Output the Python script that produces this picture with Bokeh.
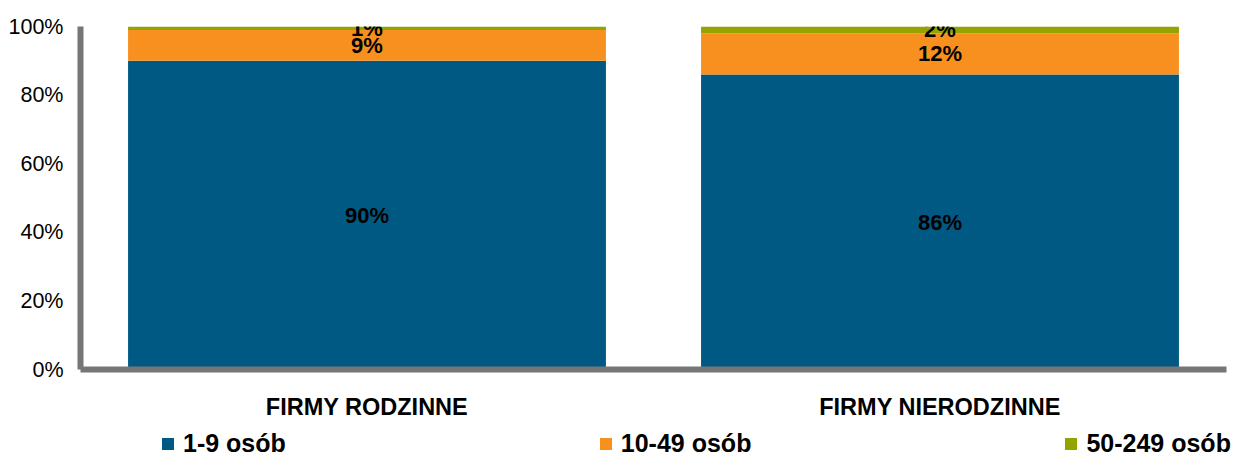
from bokeh.plotting import figure
from bokeh.layouts import column, row
from bokeh.models import ColumnDataSource, FactorRange, Range1d, FixedTicker
from bokeh.core.properties import value
from bokeh.embed import file_html
from bokeh.resources import INLINE

# Company size structure, family vs non-family firms (% of firms)
categories = ["FIRMY RODZINNE", "FIRMY NIERODZINNE"]
size_groups = ["1-9 osób", "10-49 osób", "50-249 osób"]
micro = [90, 86]
small = [9, 12]
medium = [1, 2]
colors = ["#005982", "#F7901E", "#95A300"]
y_ticks = [0, 20, 40, 60, 80, 100]

FONT = "Liberation Sans"
STACK = ["micro", "small", "medium"]

source = ColumnDataSource(data=dict(
    cat=categories, micro=micro, small=small, medium=medium,
))

p = figure(
    x_range=FactorRange(*categories),
    y_range=Range1d(0, 100),
    width=1245, height=428,
    output_backend="svg", toolbar_location=None,
    min_border_left=80, min_border_right=19,
    min_border_top=26, min_border_bottom=59,
    outline_line_color=None,
)

p.vbar_stack(STACK, x="cat", width=0.834, color=colors, line_color=None,
             source=source)

# value labels centred in each segment
lab_x, lab_y, lab_t = [], [], []
for i, c in enumerate(categories):
    base = 0
    for seg in (micro, small, medium):
        v = seg[i]
        lab_x.append(c)
        lab_y.append(base + v / 2)
        lab_t.append(f"{v}%")
        base += v
p.text(x=lab_x, y=lab_y, text=lab_t, text_align="center", text_baseline="middle",
       text_font=value(FONT), text_font_style="bold", text_font_size="22px",
       text_color="#000000")

# axes
p.xgrid.grid_line_color = None
p.ygrid.grid_line_color = None

for ax in (p.xaxis[0], p.yaxis[0]):
    ax.axis_line_color = "#767676"
    ax.axis_line_width = 6
    ax.major_tick_line_color = None
    ax.minor_tick_line_color = None
    ax.major_tick_in = 0
    ax.major_tick_out = 0
    ax.minor_tick_in = 0
    ax.minor_tick_out = 0
    ax.major_label_text_font = FONT
    ax.major_label_text_color = "#000000"

p.yaxis.ticker = FixedTicker(ticks=y_ticks)
p.yaxis.major_label_overrides = {t: f"{t}%" for t in y_ticks}
p.yaxis.major_label_text_font_size = "21.5px"
p.yaxis.major_label_standoff = 17

p.xaxis.major_label_text_font_size = "23.5px"
p.xaxis.major_label_text_font_style = "bold"
p.xaxis.major_label_standoff = 24

# legend strip along the bottom edge (its bars sit outside the visible range)
lg = figure(
    x_range=FactorRange(*categories), y_range=Range1d(200, 300),
    width=1245, height=24,
    output_backend="svg", toolbar_location=None,
    min_border=0, outline_line_color=None,
    x_axis_location=None, y_axis_location=None,
)
lg.xgrid.grid_line_color = None
lg.ygrid.grid_line_color = None
lg.vbar_stack(STACK, x="cat", width=0.834, color=colors, line_color=None,
              source=source, legend_label=size_groups)

leg = lg.legend[0]
leg.orientation = "horizontal"
leg.location = (160, -6)
leg.margin = 0
leg.padding = 0
leg.spacing = 312
leg.glyph_width = 15
leg.glyph_height = 15
leg.label_standoff = 8
leg.border_line_color = None
leg.background_fill_alpha = 0
leg.label_text_font = FONT
leg.label_text_font_style = "bold"
leg.label_text_font_size = "25px"
leg.label_text_color = "#000000"

layout = column(p, row(lg, spacing=0), spacing=0)
open("out.html", "w").write(file_html(layout, INLINE))
